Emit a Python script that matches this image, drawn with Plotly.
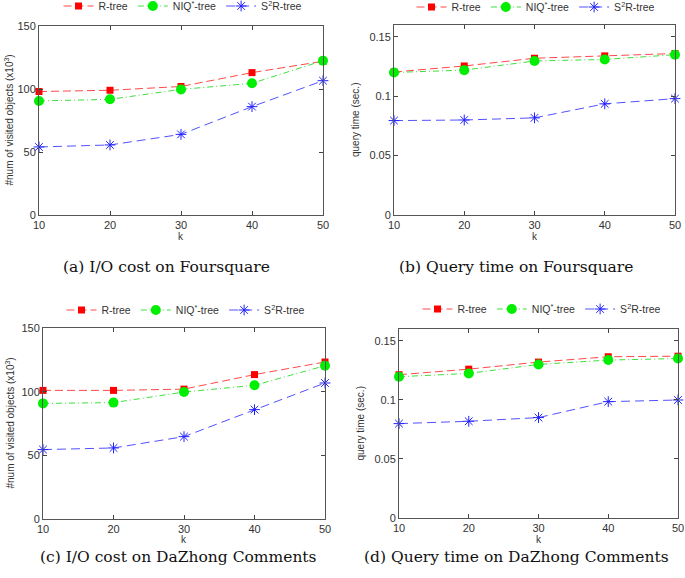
import plotly.graph_objects as go

k = [10, 20, 30, 40, 50]
series_names = ["R-tree", "NIQ<sup>*</sup>-tree", "S<sup>2</sup>R-tree"]

# (a) I/O cost on Foursquare
a_rtree = [98, 99, 102, 113, 122]
a_niq = [90.5, 91.8, 99.7, 104.5, 122.5]
a_s2r = [54, 55.6, 64, 86, 106.6]
# (b) Query time on Foursquare
b_rtree = [0.1204, 0.1255, 0.132, 0.134, 0.136]
b_niq = [0.120, 0.122, 0.1297, 0.131, 0.135]
b_s2r = [0.0795, 0.080, 0.0818, 0.0936, 0.098]
# (c) I/O cost on DaZhong Comments
c_rtree = [101, 101, 102, 113.4, 123.3]
c_niq = [90.8, 91.4, 99.7, 105, 120.4]
c_s2r = [54.5, 55.8, 64.7, 85.9, 106.8]
# (d) Query time on DaZhong Comments
d_rtree = [0.1213, 0.126, 0.132, 0.1365, 0.137]
d_niq = [0.1196, 0.1224, 0.130, 0.1337, 0.135]
d_s2r = [0.0799, 0.0819, 0.085, 0.0985, 0.0999]

captions = ["(a) I/O cost on Foursquare", "(b) Query time on Foursquare",
            "(c) I/O cost on DaZhong Comments", "(d) Query time on DaZhong Comments"]
ytitles = ["#num of visited objects (x10<sup>3</sup>)", "query time (sec.)",
           "#num of visited objects (x10<sup>3</sup>)", "query time (sec.)"]
io_ticks = [0, 50, 100, 150]
io_ticktext = ["0", "50", "100", "150"]
qt_ticks = [0, 0.05, 0.1, 0.15]
qt_ticktext = ["0", "0.05", "0.1", "0.15"]

W, H = 685, 578

def px_x(v):
    return v / W

def px_y(v):
    return 1 - v / H

# panel boxes in pixels: (left, right, top, bottom)
boxes = [(39, 323, 26, 215), (394, 675, 25, 215), (43, 325, 328, 519), (399, 678, 329, 518)]
legend_pos = [(183, 6), (536, 7), (186, 310), (542, 309)]
ytitle_x = [8, 356, 9, 360]
xtitle_y = [237, 237, 539, 539]
caption_pos = [(166, 267), (516, 267), (178, 557), (516, 557)]
data = [(a_rtree, a_niq, a_s2r), (b_rtree, b_niq, b_s2r), (c_rtree, c_niq, c_s2r), (d_rtree, d_niq, d_s2r)]

styles = [
    dict(line=dict(color="rgba(255,40,40,0.85)", width=1, dash="8px,4px"),
         marker=dict(symbol="square", size=7, color="#ff0000")),
    dict(line=dict(color="rgba(40,220,40,0.9)", width=1, dash="6px,3px,1px,3px"),
         marker=dict(symbol="circle", size=10, color="#00ee00")),
    dict(line=dict(color="rgba(50,50,255,0.85)", width=1, dash="9px,5px"),
         marker=dict(symbol="asterisk-open", size=9, color="#2222ff", line=dict(width=1, color="#2222ff"))),
]

fig = go.Figure()
font_sans = "Liberation Sans, Arial, sans-serif"
annotations = []
layout = {}
for i in range(4):
    sfx = "" if i == 0 else str(i + 1)
    l, r, t, b = boxes[i]
    xa = "x" + sfx
    ya = "y" + sfx
    leg = "legend" + sfx
    for j in range(3):
        fig.add_trace(go.Scatter(x=k, y=data[i][j], name=series_names[j], mode="lines+markers",
                                 xaxis=xa, yaxis=ya, legend=leg, cliponaxis=False, **styles[j]))
    is_io = (i % 2 == 0)
    layout["xaxis" + sfx] = dict(domain=[px_x(l), px_x(r)], anchor=ya, range=[10, 50],
                                 tickvals=k, ticks="inside", ticklen=4, mirror="allticks",
                                 showline=True, linecolor="#555", linewidth=1, showgrid=False,
                                 zeroline=False, automargin=False,
                                 tickfont=dict(family=font_sans, size=11, color="#333"))
    layout["yaxis" + sfx] = dict(domain=[px_y(b), px_y(t)], anchor=xa,
                                 range=[0, 150] if is_io else [0, 0.16],
                                 tickvals=io_ticks if is_io else qt_ticks,
                                 ticktext=io_ticktext if is_io else qt_ticktext,
                                 ticks="inside", ticklen=4, mirror="allticks",
                                 showline=True, linecolor="#555", linewidth=1, showgrid=False,
                                 zeroline=False, automargin=False,
                                 tickfont=dict(family=font_sans, size=11, color="#333"))
    lx, ly = legend_pos[i]
    layout[leg] = dict(orientation="h", x=px_x(lx), y=px_y(ly), xanchor="center", yanchor="middle",
                       bgcolor="rgba(0,0,0,0)", font=dict(family=font_sans, size=10.5, color="#333"),
                       itemwidth=30, tracegroupgap=0)
    annotations.append(dict(text=ytitles[i], x=px_x(ytitle_x[i]), y=px_y((t + b) / 2), xref="paper",
                            yref="paper", textangle=-90, showarrow=False, xanchor="center",
                            yanchor="middle", font=dict(family=font_sans, size=10, color="#333")))
    annotations.append(dict(text="k", x=px_x((l + r) / 2), y=px_y(xtitle_y[i]), xref="paper",
                            yref="paper", showarrow=False, xanchor="center", yanchor="middle",
                            font=dict(family=font_sans, size=10, color="#333")))
    cx, cy = caption_pos[i]
    annotations.append(dict(text=captions[i], x=px_x(cx), y=px_y(cy), xref="paper", yref="paper",
                            showarrow=False, xanchor="center", yanchor="middle",
                            font=dict(family="DejaVu Serif, Liberation Serif, serif", size=15.5, color="#111")))

fig.update_layout(width=W, height=H, margin=dict(l=0, r=0, t=0, b=0, autoexpand=False),
                  paper_bgcolor="white", plot_bgcolor="white", annotations=annotations,
                  showlegend=True, **layout)
fig.write_html("out.html", config={"displayModeBar": False},
               post_script="document.body.style.margin='0';document.body.style.padding='0';")
